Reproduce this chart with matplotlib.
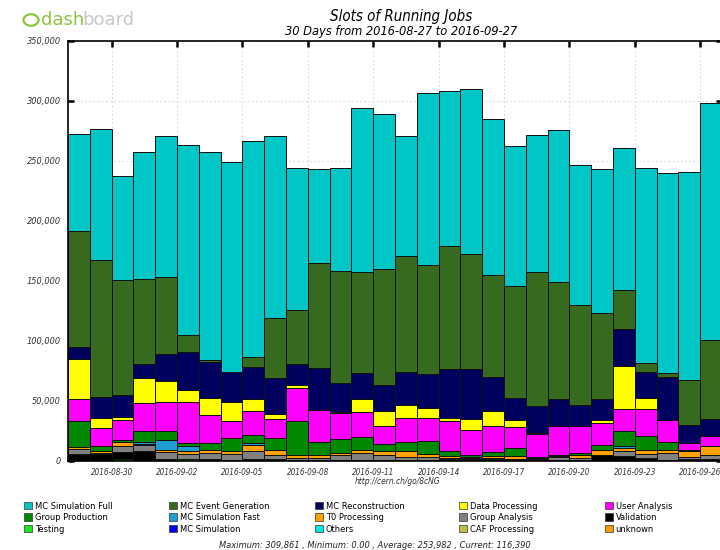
import matplotlib
matplotlib.use("Agg")
import matplotlib.pyplot as plt
import matplotlib.dates as mdates
import numpy as np
import pandas as pd
from matplotlib.patches import Patch, Circle

# daily bins, values in thousands of slots
days = pd.date_range("2016-08-28", periods=30, freq="D")

mc_sim_full = [80.7, 108.6, 87, 105.4, 117.8, 158.5, 173, 175.3, 179.9, 151.9, 117.8, 77.9, 86.3, 136.9, 129.2,
               100.6, 143.5, 128.9, 137.6, 130, 117, 114.2, 126.8, 117.3, 119.8, 118.3, 163, 166.6, 173.5, 197.3]
mc_event_gen = [96.7, 114.4, 95.6, 71.2, 64.5, 13.6, 1.7, 0, 8.3, 49.9, 45.2, 87.3, 92.6, 83.9, 96.4,
                96.5, 90.9, 102.8, 95.9, 84.8, 92.9, 111.6, 97.7, 83.1, 71.7, 32.4, 7, 3.3, 38, 66.2]
mc_reco = [9.7, 17, 18.1, 11.7, 22.2, 31.9, 29.7, 24.4, 26.9, 29.6, 17.7, 35.5, 24.9, 21.9, 21.6,
           27.1, 28, 40.7, 41.3, 28.5, 18.8, 22, 22.2, 17.2, 17.2, 30.3, 22.1, 36, 14.4, 13.9]
data_proc = [33.5, 9.1, 3, 20.7, 17.2, 9.7, 14.4, 15.8, 9.7, 4.4, 2.2, 0, 0.5, 10.3, 12.3,
             10.6, 8.1, 2.2, 9.7, 12, 5.5, 1.3, 0, 0, 2.8, 36.2, 9.1, 0, 0, 0]
user_analysis = [17.8, 14.7, 16.3, 23.3, 24.4, 34.6, 23.5, 14.9, 20.2, 15.8, 27.4, 26.1, 21.7, 21.3, 15.4,
                 20.8, 19.4, 25.6, 21, 22.4, 17.7, 19.4, 24.4, 22.7, 18, 18.6, 22, 18.6, 6.4, 8.3]
group_prod = [22.1, 3.9, 2, 9.2, 7.4, 2.2, 6.1, 10.3, 6.9, 9.8, 28.3, 11, 11.6, 11.1, 5.6,
              7.5, 10.8, 4.1, 1, 3.3, 7, 0.5, 1, 2, 4.7, 12.5, 12.4, 6.4, 0.5, 0.3]
mc_sim_fast = [0, 0, 0, 1.4, 8.4, 4.8, 0, 0, 2, 0, 0, 0, 0, 0, 0,
               0, 0, 0, 0, 0, 0, 0, 0, 0, 0, 1.5, 0, 0, 0, 0]
t0_proc = [1.7, 1.9, 3, 1.4, 1.6, 2.1, 2.2, 2.5, 5, 4.1, 2.8, 2.8, 1.7, 2.2, 3.9,
           4.6, 2.7, 1.4, 1.4, 1.4, 1.9, 1.2, 1, 2.4, 3.6, 2.1, 2.8, 2.7, 5, 7.2]
group_analysis = [4.1, 1, 5.6, 5, 5.8, 3.9, 5, 5, 6, 3.6, 1.2, 1.2, 4.1, 5.8, 4.1,
                  2.5, 2.5, 0.7, 0.5, 0.8, 0.5, 0.3, 2, 1.2, 0, 4.1, 3.6, 5.6, 1.5, 3.6]
validation = [4.8, 5.4, 5.5, 6.9, 1, 0.3, 0.7, 0.8, 1.7, 1.4, 1, 1, 0.6, 0.6, 0.3,
              0.6, 0.6, 1.5, 1.5, 1.4, 1.2, 0.8, 0.7, 0.8, 4.5, 4.2, 1.5, 0.8, 1.6, 1.4]
testing = [0.8, 0, 1.4, 0.8, 0.7, 1.4, 0.7, 0, 0, 0, 0, 0, 0, 0, 0,
           0, 0, 0, 0, 0, 0, 0, 0, 0, 0.5, 0, 0.7, 0, 0, 0]
zeros = [0] * 30

# legend order (top of stack first)
series = [
    ("MC Simulation Full", mc_sim_full, "#00c6c6"),
    ("MC Event Generation", mc_event_gen, "#366a1f"),
    ("MC Reconstruction", mc_reco, "#00005e"),
    ("Data Processing", data_proc, "#ffff00"),
    ("User Analysis", user_analysis, "#ff00ff"),
    ("Group Production", group_prod, "#008800"),
    ("MC Simulation Fast", mc_sim_fast, "#1e9fcf"),
    ("T0 Processing", t0_proc, "#ffa200"),
    ("Group Analysis", group_analysis, "#808080"),
    ("Validation", validation, "#000000"),
    ("Testing", testing, "#1ee61e"),
    ("MC Simulation", zeros, "#0000ff"),
    ("Others", zeros, "#00e8e8"),
    ("CAF Processing", zeros, "#c0c040"),
    ("unknown", zeros, "#ff9900"),
]

plt.rcParams["font.family"] = "DejaVu Sans"
plt.rcParams["font.stretch"] = "condensed"

fig = plt.figure(figsize=(7.2, 5.5), dpi=100)
ax = fig.add_axes([68 / 720, 89.3 / 550, 654 / 720, 420 / 550])

bottom = np.zeros(30)
for name, vals, col in reversed(series):
    v = np.array(vals) * 1000
    ax.bar(days, v, width=1.0, bottom=bottom, align="edge", color=col,
           edgecolor="#111111", linewidth=0.7, zorder=2)
    bottom += v

ax.set_xlim(days[0], days[-1] + pd.Timedelta(days=1))
ax.set_ylim(0, 350000)
ax.set_yticks(np.arange(0, 350001, 50000))
ax.yaxis.set_major_formatter(matplotlib.ticker.FuncFormatter(lambda v, p: f"{int(v):,}"))
ax.set_xticks(pd.date_range("2016-08-30", "2016-09-26", freq="3D"))
ax.xaxis.set_major_formatter(mdates.DateFormatter("%Y-%m-%d"))

ax.grid(True, color="#d0d0d0", linestyle=(0, (2, 3)), linewidth=0.6, zorder=0)
ax.set_axisbelow(True)
ax.tick_params(direction="in", length=4, width=1.8, top=True, right=True, color="black")
ax.tick_params(axis="x", pad=5)
ax.tick_params(axis="y", pad=5)
for lab in ax.get_yticklabels():
    lab.set_fontsize(6.6)
    lab.set_fontstyle("italic")
    lab.set_color("#333333")
for lab in ax.get_xticklabels():
    lab.set_fontsize(5.9)
    lab.set_fontstyle("italic")
    lab.set_color("#333333")
for s in ax.spines.values():
    s.set_linewidth(1.2)

fig.text(401 / 720, 1 - 17 / 550, "Slots of Running Jobs", ha="center", va="center",
         fontsize=10.8, style="italic")
fig.text(401 / 720, 1 - 31 / 550, "30 Days from 2016-08-27 to 2016-09-27", ha="center", va="center",
         fontsize=9.2, style="italic")
fig.text(398 / 720, 1 - 482 / 550, "http://cern.ch/go/8cNG", ha="center", va="center",
         fontsize=6, style="italic", color="#333333")
fig.text(375 / 720, 1 - 546 / 550,
         "Maximum: 309,861 , Minimum: 0.00 , Average: 253,982 , Current: 116,390",
         ha="center", va="center", fontsize=6.7, style="italic", color="#222222")

# dashboard logo
fig.patches.append(Circle((31 / 720, 1 - 20 / 550), 7.5 / 720, transform=fig.transFigure,
                          facecolor="none", edgecolor="#8cc63f", linewidth=1.6))
fig.text(41 / 720, 1 - 20 / 550, "dash", ha="left", va="center", fontsize=13, color="#8cc63f",
         stretch="normal")
fig.text(82 / 720, 1 - 20 / 550, "board", ha="left", va="center", fontsize=13, color="#c8c8c8",
         stretch="normal")

# legend: one small legend per column, three rows each
handles = [Patch(facecolor=c, edgecolor="#333333", linewidth=0.5, label=n) for n, v, c in series]
col_x = [24, 169, 315, 459, 605]
for c in range(5):
    idx = [r * 5 + c for r in range(3)]
    fig.legend([handles[i] for i in idx], [series[i][0] for i in idx],
               loc="upper left", bbox_to_anchor=(col_x[c] / 720, 1 - 502 / 550),
               frameon=False, fontsize=6.7, handlelength=0.85, handleheight=0.85,
               handletextpad=0.3, labelspacing=0.25, borderaxespad=0, borderpad=0)

fig.savefig("out.png", dpi=100)
